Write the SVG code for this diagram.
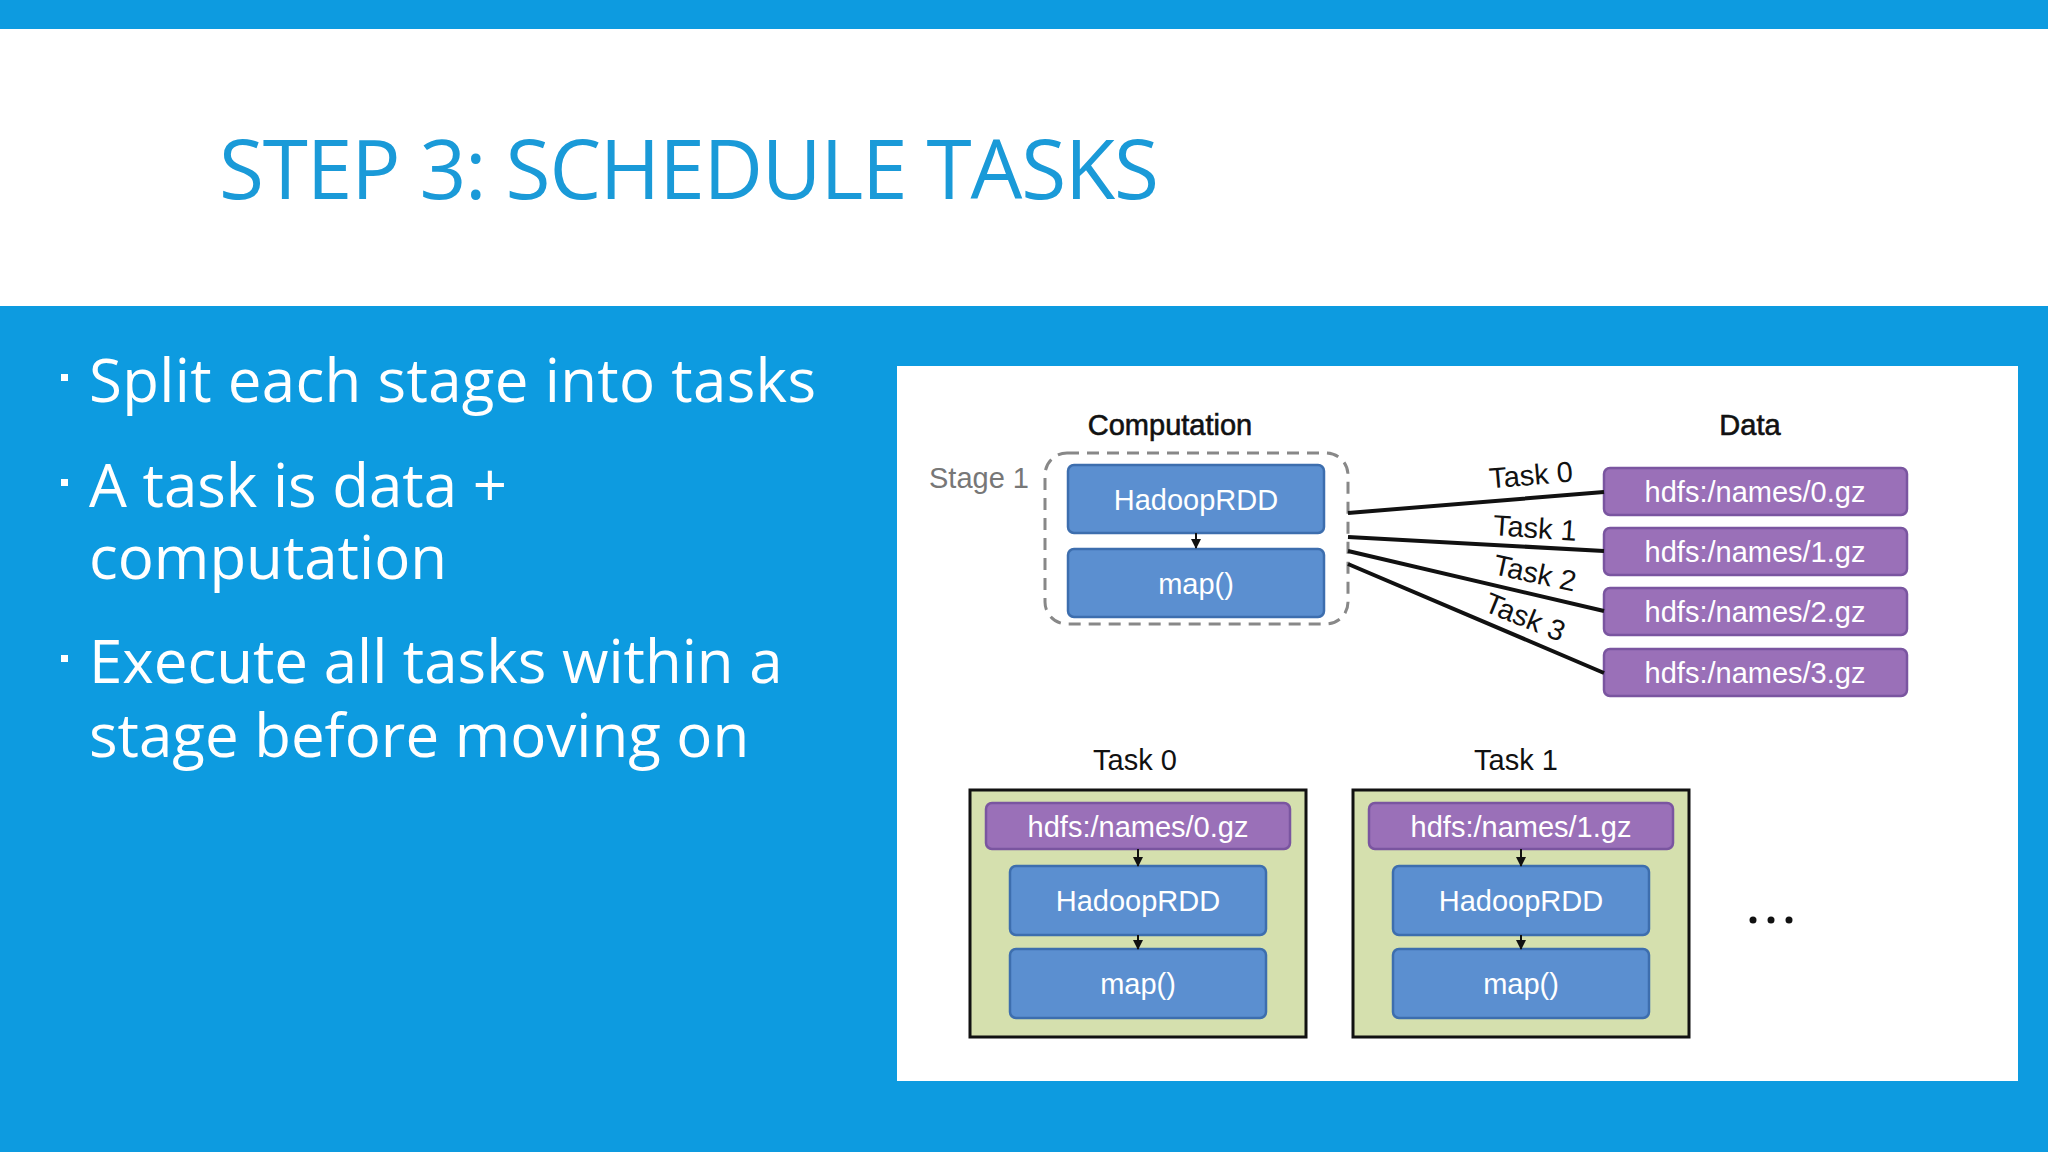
<svg xmlns="http://www.w3.org/2000/svg" width="2048" height="1152" viewBox="0 0 2048 1152">
<defs>
<style>
.b{fill:#5b8fd0;stroke:#3d6eae;stroke-width:2.5}
.p{fill:#9a70b8;stroke:#7a55a0;stroke-width:2.5}
.g{fill:#d5e0ae;stroke:#111;stroke-width:3}
.w{font-family:"Liberation Sans",Arial,sans-serif;font-size:29px;fill:#fff;text-anchor:middle}
.k{font-family:"Liberation Sans",Arial,sans-serif;font-size:29px;fill:#111;text-anchor:middle}
.bul{font-family:"Open Sans","Noto Sans",sans-serif;font-size:60px;fill:#fff}
.ln{stroke:#111;stroke-width:4;fill:none}
.ar{stroke:#111;stroke-width:2;fill:none}
</style>
<marker id="m" viewBox="0 0 10 10" refX="9" refY="5" markerWidth="5" markerHeight="5" orient="auto"><path d="M0,0L10,5L0,10z" fill="#111"/></marker>
</defs>
<rect width="2048" height="1152" fill="#0d9be0"/>
<rect y="29" width="2048" height="277" fill="#fff"/>
<text x="219" y="199" font-family="Open Sans,Noto Sans,sans-serif" font-size="82" fill="#1a9ad8" textLength="940">STEP 3: SCHEDULE TASKS</text>
<rect x="61" y="374" width="7" height="7" fill="#fff"/>
<rect x="61" y="479" width="7" height="7" fill="#fff"/>
<rect x="61" y="655" width="7" height="7" fill="#fff"/>
<g class="bul">
<text x="89" y="402" textLength="727">Split each stage into tasks</text>
<text x="89" y="507">A task is data +</text>
<text x="89" y="579">computation</text>
<text x="89" y="683">Execute all tasks within a</text>
<text x="89" y="757">stage before moving on</text>
</g>
<rect x="897" y="366" width="1121" height="715" fill="#fff"/>
<text class="k" x="1170" y="435" font-size="32" stroke="#111" stroke-width="0.6">Computation</text>
<text class="k" x="1750" y="435" font-size="32" stroke="#111" stroke-width="0.6">Data</text>
<text x="929" y="488" font-family="Liberation Sans,Arial,sans-serif" font-size="29" fill="#777">Stage 1</text>
<rect x="1045" y="453" width="303" height="171" rx="22" fill="none" stroke="#888" stroke-width="3" stroke-dasharray="12,8"/>
<g class="k" font-size="28">
<text x="1531" y="485" transform="rotate(-5 1531 475)">Task 0</text>
<text x="1535" y="538" transform="rotate(4 1535 528)">Task 1</text>
<text x="1535" y="583" transform="rotate(12 1535 573)">Task 2</text>
<text x="1525" y="627" transform="rotate(22 1525 617)">Task 3</text>
</g>
<g id="s1"><rect class="b" x="1068" y="465" width="256" height="68" rx="6"/><text class="w" x="1196" y="510">HadoopRDD</text></g>
<g id="s1map"><rect class="b" x="1068" y="549" width="256" height="68" rx="6"/><text class="w" x="1196" y="594">map()</text></g>
<g id="d0"><rect class="p" x="1604" y="468" width="303" height="47" rx="6"/><text class="w" x="1755" y="502">hdfs:/names/0.gz</text></g>
<g id="d1"><rect class="p" x="1604" y="528" width="303" height="47" rx="6"/><text class="w" x="1755" y="562">hdfs:/names/1.gz</text></g>
<g id="d2"><rect class="p" x="1604" y="588" width="303" height="47" rx="6"/><text class="w" x="1755" y="622">hdfs:/names/2.gz</text></g>
<g id="d3"><rect class="p" x="1604" y="649" width="303" height="47" rx="6"/><text class="w" x="1755" y="683">hdfs:/names/3.gz</text></g>
<g id="t0">
<text class="k" x="1135" y="770">Task 0</text>
<rect class="g" x="970" y="790" width="336" height="247"/>
<rect class="p" x="986" y="803" width="304" height="46" rx="6"/><text class="w" x="1138" y="837">hdfs:/names/0.gz</text>
<rect class="b" x="1010" y="866" width="256" height="69" rx="6"/><text class="w" x="1138" y="911">HadoopRDD</text>
<rect class="b" x="1010" y="949" width="256" height="69" rx="6"/><text class="w" x="1138" y="994">map()</text>
</g>
<g id="t1">
<text class="k" x="1516" y="770">Task 1</text>
<rect class="g" x="1353" y="790" width="336" height="247"/>
<rect class="p" x="1369" y="803" width="304" height="46" rx="6"/><text class="w" x="1521" y="837">hdfs:/names/1.gz</text>
<rect class="b" x="1393" y="866" width="256" height="69" rx="6"/><text class="w" x="1521" y="911">HadoopRDD</text>
<rect class="b" x="1393" y="949" width="256" height="69" rx="6"/><text class="w" x="1521" y="994">map()</text>
</g>
<g id="connectors">
<path class="ln" d="M1348 513L1604 492M1348 537L1604 551M1348 551L1604 611M1348 564L1604 673"/>
<path class="ar" d="M1196 533V548" marker-end="url(#m)"/>
<path class="ar" d="M1138 849V866" marker-end="url(#m)"/>
<path class="ar" d="M1138 935V949" marker-end="url(#m)"/>
<path class="ar" d="M1521 849V866" marker-end="url(#m)"/>
<path class="ar" d="M1521 935V949" marker-end="url(#m)"/>
</g>
<g fill="#111"><circle cx="1753" cy="920" r="3.5"/><circle cx="1771" cy="920" r="3.5"/><circle cx="1789" cy="920" r="3.5"/></g>
</svg>
